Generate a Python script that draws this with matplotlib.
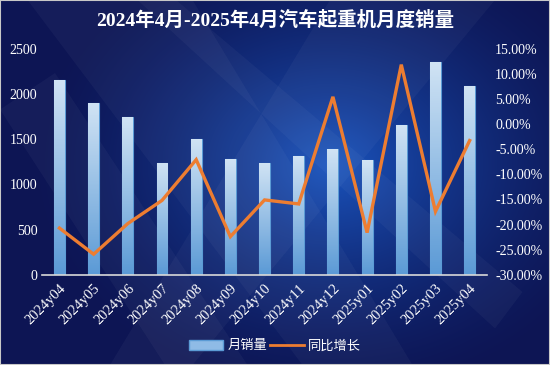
import matplotlib
matplotlib.use("Agg")
import matplotlib.pyplot as plt
import numpy as np
from matplotlib.patches import Polygon, Rectangle
from matplotlib.lines import Line2D
from matplotlib.ticker import FuncFormatter
from matplotlib.colors import LinearSegmentedColormap

plt.rcParams['font.family'] = ['Liberation Serif', 'Noto Sans CJK SC', 'DejaVu Sans']

months = ['2024y04', '2024y05', '2024y06', '2024y07', '2024y08', '2024y09', '2024y10',
          '2024y11', '2024y12', '2025y01', '2025y02', '2025y03', '2025y04']
sales = [2150, 1900, 1740, 1240, 1500, 1280, 1235, 1315, 1385, 1267, 1654, 2346, 2081]
yoy = [-20.7, -25.9, -19.8, -15.2, -7.1, -22.4, -15.1, -15.9, 5.4, -21.6, 11.8, -17.4, -3.3]

title = '2024年4月-2025年4月汽车起重机月度销量'
bar_label = '月销量'
line_label = '同比增长'


def draw_background(fig):
    bg = fig.add_axes([0, 0, 1, 1], zorder=-10)
    bg.set_xlim(0, 1)
    bg.set_ylim(0, 1)
    bg.axis('off')
    h, w = 365, 550
    yy, xx = np.mgrid[0:1:h * 1j, 0:1:w * 1j]
    d = np.sqrt(((xx - 0.6) * 1.3) ** 2 + ((yy - 0.55) * 1.1) ** 2)
    t = np.clip(1 - d / 0.72, 0, 1) ** 1.5
    dark = np.array([13, 21, 84]) / 255
    light = np.array([26, 84, 190]) / 255
    img = dark + (light - dark) * t[..., None]
    bg.imshow(img, extent=[0, 1, 0, 1], aspect='auto', origin='lower')
    # soft diagonal streaks
    streaks = [
        [(0.05, 1), (0.35, 1), (0.75, 0), (0.55, 0)],
        [(0.25, 1), (0.32, 1), (0.95, 0.2), (0.9, 0.1)],
        [(0.6, 1), (0.9, 1), (0.35, 0), (0.2, 0)],
        [(0.0, 0.7), (0.1, 0.8), (0.45, 0.0), (0.3, 0.0)],
    ]
    for pts in streaks:
        bg.add_patch(Polygon(pts, closed=True, facecolor='white', alpha=0.035,
                             edgecolor='none'))
    bg.add_patch(Rectangle((0, 0), 1, 1, fill=False, edgecolor='#c8c8c8', lw=1.5,
                           transform=bg.transAxes))


def main():
    fig = plt.figure(figsize=(5.5, 3.65), dpi=100)
    draw_background(fig)

    ax = fig.add_axes([0.077, 0.247, 0.808, 0.62])
    ax.patch.set_alpha(0)
    x = np.arange(len(months))
    bars = ax.bar(x, sales, width=0.32, color='#7fb0e0', edgecolor='#5b9bd5',
                  linewidth=0.8, zorder=2)
    grad = np.linspace(0, 1, 100).reshape(-1, 1)
    cmap = LinearSegmentedColormap.from_list('barg', ['#5b9ad6', '#d0e3f4'])
    for b in bars:
        bx, by = b.get_x(), b.get_y()
        im = ax.imshow(grad, cmap=cmap, origin='lower', aspect='auto',
                       extent=[bx, bx + b.get_width(), by, by + b.get_height()],
                       zorder=2.5)
        im.set_clip_path(b)
    ax.set_xlim(-0.5, len(months) - 0.5)
    ax.set_ylim(0, 2500)
    ax.set_yticks([0, 500, 1000, 1500, 2000, 2500])
    ax.set_xticks(x)
    ax.set_xticklabels(months, rotation=45, ha='right', rotation_mode='anchor')
    for s in ['top', 'right', 'left']:
        ax.spines[s].set_visible(False)
    ax.spines['bottom'].set_color('#d9d9d9')
    ax.spines['bottom'].set_linewidth(1.2)
    ax.tick_params(axis='both', colors='white', labelsize=10, length=0)
    ax.tick_params(axis='x', labelsize=10.5, pad=5)

    ax2 = ax.twinx()
    ax2.plot(x, yoy, color='#ed7d31', lw=2.4, zorder=3, solid_joinstyle='miter')
    ax2.set_ylim(-30, 15)
    ax2.set_yticks(np.arange(-30, 16, 5))
    ax2.yaxis.set_major_formatter(FuncFormatter(lambda v, p: f'{v:.2f}%'))
    for s in ['top', 'right', 'left', 'bottom']:
        ax2.spines[s].set_visible(False)
    ax2.tick_params(axis='y', colors='white', labelsize=10, length=0, pad=6)

    fig.text(0.5, 0.945, title, color='white', fontsize=14, fontweight='bold',
             ha='center', va='center')

    handles = [Rectangle((0, 0), 1, 1, facecolor='#8fbbe6', edgecolor='#5b9bd5'),
               Line2D([0], [0], color='#ed7d31', lw=2)]
    fig.legend(handles, [bar_label, line_label], loc='center', ncol=2,
               bbox_to_anchor=(0.5, 0.052), frameon=False, fontsize=9.5,
               labelcolor='white', handlelength=2.6, handletextpad=0.3,
               columnspacing=0.2, handleheight=0.8)

    fig.savefig('out.png', dpi=100)


if __name__ == '__main__':
    main()
